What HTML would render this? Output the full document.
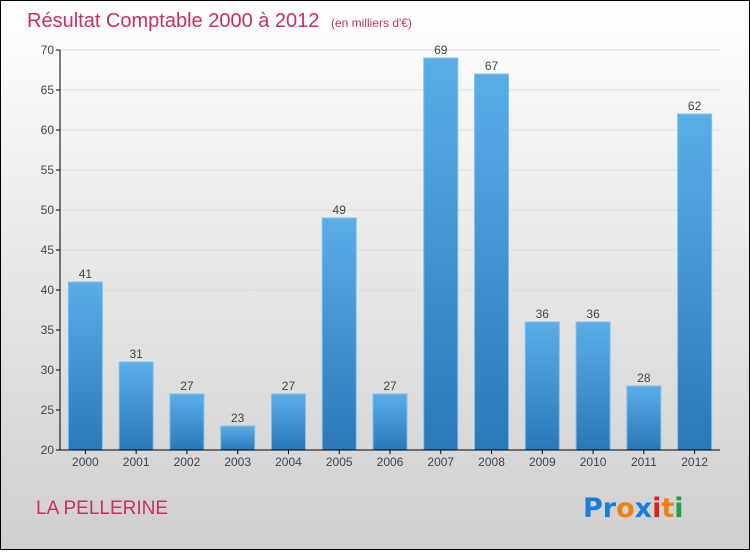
<!DOCTYPE html>
<html><head><meta charset="utf-8"><style>
body{margin:0;width:750px;height:550px;overflow:hidden;font-family:"Liberation Sans",sans-serif}
</style></head><body>
<svg width="750" height="550" xmlns="http://www.w3.org/2000/svg">
<defs>
<linearGradient id="bg" x1="0" y1="0" x2="0" y2="1"><stop offset="0" stop-color="#ffffff"/><stop offset="1" stop-color="#cfcfcf"/></linearGradient>
<linearGradient id="bar" x1="0" y1="0" x2="0" y2="1"><stop offset="0" stop-color="#5aaee8"/><stop offset="1" stop-color="#2a78b8"/></linearGradient>
</defs>
<rect x="0.5" y="0.5" width="749" height="549" fill="url(#bg)" stroke="#000"/>
<text x="27" y="27" font-size="20" fill="#c8305e">Résultat Comptable 2000 à 2012 <tspan font-size="12" dx="6">(en milliers d'€)</tspan></text>
<g id="grid"></g>
<g id="bars"></g>
<g id="axes"></g>
<text x="36" y="514" font-size="19" fill="#c8305e">LA PELLERINE</text>
<g font-size="27" font-weight="bold" font-family="'DejaVu Sans',sans-serif">
<text x="583" y="517"><tspan fill="#1a7ed6">Pr</tspan><tspan fill="#f08010">o</tspan><tspan fill="#1a7ed6">x</tspan><tspan fill="#e02020">i</tspan><tspan fill="#f08010">t</tspan><tspan fill="#20a040">i</tspan></text>
</g>
</svg>
<script>
const categories=["2000","2001","2002","2003","2004","2005","2006","2007","2008","2009","2010","2011","2012"];
const values=[41,31,27,23,27,49,27,69,67,36,36,28,62];
const yTicks=[20,25,30,35,40,45,50,55,60,65,70];
const NS="http://www.w3.org/2000/svg";
const x0=60,x1=720,yMin=20,yMax=70,plotTop=50,plotBot=450;
const band=(x1-x0)/categories.length,bw=34;
const y=v=>plotBot-(v-yMin)/(yMax-yMin)*(plotBot-plotTop);
const xc=i=>x0+band*(i+0.5);
function mk(t,a,p){const e=document.createElementNS(NS,t);for(const k in a)e.setAttribute(k,a[k]);p.appendChild(e);return e;}
const grid=document.getElementById('grid'),bars=document.getElementById('bars'),axes=document.getElementById('axes');
yTicks.forEach(t=>{
 const l=mk('line',{x1:x0,x2:x1,y1:y(t),y2:y(t),stroke:'#dddddd','stroke-width':1},grid);
 
 
 const tk=mk('line',{x1:x0-4,x2:x0,y1:y(t),y2:y(t),stroke:'#000'},axes);
 
 
 const tx=mk('text',{x:x0-6,y:y(t)+4,'font-size':12,fill:'#444','text-anchor':'end'},axes);
 tx.textContent=t;
 
 
});
values.forEach((v,i)=>{
 const r=mk('rect',{x:xc(i)-bw/2,y:y(v),width:bw,height:plotBot-y(v),fill:'url(#bar)',stroke:'#7cc0f0','stroke-width':1},bars);
 
 
 const t=mk('text',{x:xc(i),y:y(v)-4,'font-size':12,fill:'#444','text-anchor':'middle'},bars);
 t.textContent=v;
 
 
 const c=mk('text',{x:xc(i),y:plotBot+16,'font-size':12,fill:'#444','text-anchor':'middle'},axes);
 c.textContent=categories[i];
 
 
 const tk=mk('line',{x1:xc(i),x2:xc(i),y1:plotBot,y2:plotBot+4,stroke:'#000'},axes);
 
 
});
const ya=mk('line',{x1:x0,x2:x0,y1:plotTop,y2:plotBot,stroke:'#000'},axes);


const xa=mk('line',{x1:x0,x2:x1,y1:plotBot,y2:plotBot,stroke:'#000'},axes);


</script>
</body></html>
